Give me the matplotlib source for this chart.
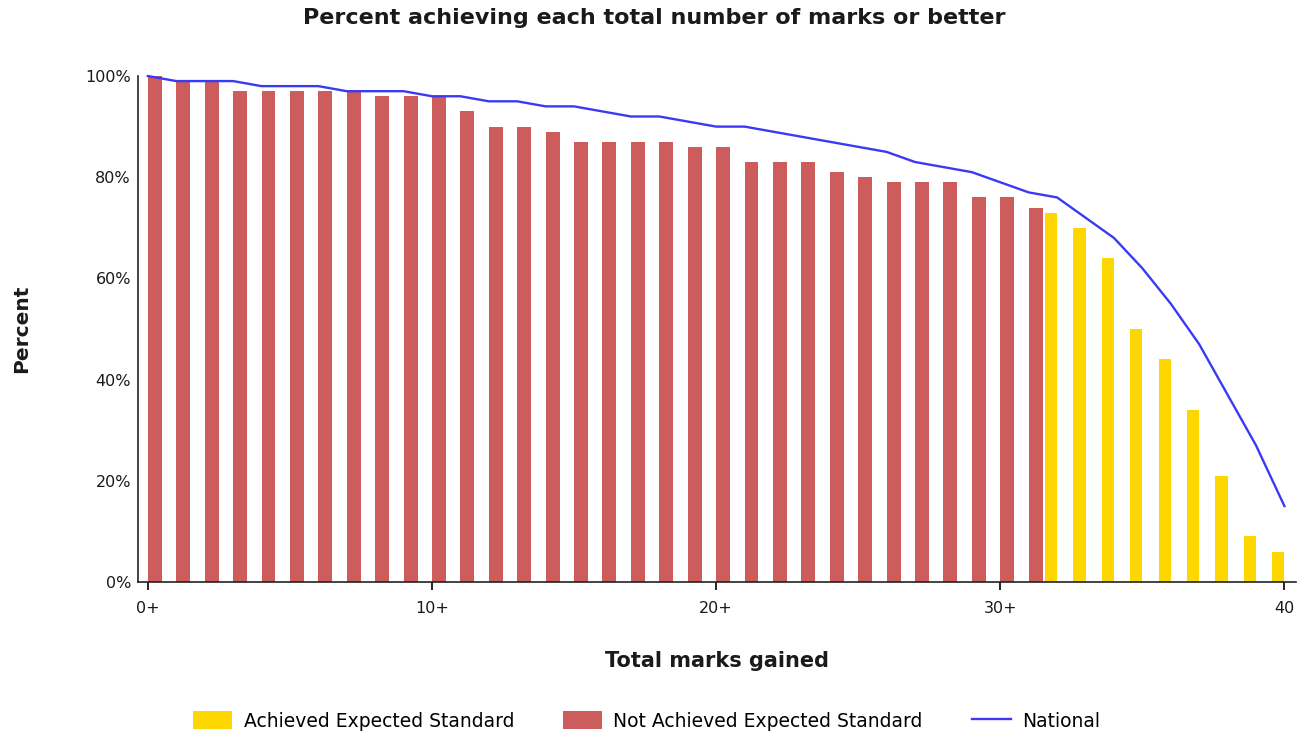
import numpy as np
import matplotlib
matplotlib.use("Agg")
import matplotlib.pyplot as plt
from matplotlib.patches import Patch
from matplotlib.lines import Line2D

# Data
marks = list(range(41))
tick_pos = [0, 10, 20, 30, 40]
tick_labels = ["0+", "10+", "20+", "30+", "40"]

not_achieved = [100, 99, 99, 97, 97, 97, 97, 97, 96, 96, 96, 93, 90, 90, 89, 87,
                87, 87, 87, 86, 86, 83, 83, 83, 81, 80, 79, 79, 79, 76, 76, 74]
achieved = [73, 70, 64, 50, 44, 34, 21, 9, 6]
national = [100, 99, 99, 99, 98, 98, 98, 97, 97, 97, 96, 96, 95, 95, 94, 94,
            93, 92, 92, 91, 90, 90, 89, 88, 87, 86, 85, 83, 82, 81, 79, 77,
            76, 72, 68, 62, 55, 47, 37, 27, 15]

RED = "#CD5C5C"
YELLOW = "#FFD700"
BLUE = "#3A3AF5"
TXT = "#1a1a1a"

fig = plt.figure(figsize=(13.01, 7.38), dpi=100)
ax = fig.add_axes([0.106, 0.2114, 0.89, 0.6856])

n_red = len(not_achieved)
x_red = np.array(marks[:n_red])
x_yel = np.array(marks[n_red:n_red + len(achieved)])

ax.bar(x_red, not_achieved, width=0.49, align="edge", color=RED)
ax.bar(x_yel, achieved, width=-0.43, align="edge", color=YELLOW)
ax.plot(marks, national, color=BLUE, lw=1.7, clip_on=False)

ax.set_xlim(-0.35, 40.4)
ax.set_ylim(0, 100)
ax.set_yticks(range(0, 101, 20))
ax.set_yticklabels([f"{v}%" for v in range(0, 101, 20)], fontsize=11.5, color=TXT)
ax.tick_params(axis="y", length=0, pad=5)
ax.set_xticks(tick_pos)
ax.set_xticklabels(tick_labels, fontsize=11.5, color=TXT)
ax.tick_params(axis="x", length=6, width=1.2, pad=8)

for s in ["top", "right"]:
    ax.spines[s].set_visible(False)
for s in ["left", "bottom"]:
    ax.spines[s].set_linewidth(1.2)
    ax.spines[s].set_color("#222222")

ax.set_xlabel("Total marks gained", fontsize=15, fontweight="bold", labelpad=25, color=TXT)
fig.text(0.017, 0.555, "Percent", rotation=90, fontsize=14.5, fontweight="bold",
         ha="center", va="center", color=TXT)
fig.text(0.503, 0.975, "Percent achieving each total number of marks or better",
         fontsize=16, fontweight="bold", ha="center", va="center", color=TXT)

handles = [Patch(facecolor=YELLOW), Patch(facecolor=RED), Line2D([], [], color=BLUE, lw=1.7)]
labels = ["Achieved Expected Standard", "Not Achieved Expected Standard", "National"]
fig.legend(handles, labels, loc="center", bbox_to_anchor=(0.497, 1 - 721 / 738), ncol=3,
           frameon=False, fontsize=13.5, handlelength=2.1, handleheight=1.1,
           columnspacing=2.6, handletextpad=0.6)

fig.savefig("out.png", dpi=100)
